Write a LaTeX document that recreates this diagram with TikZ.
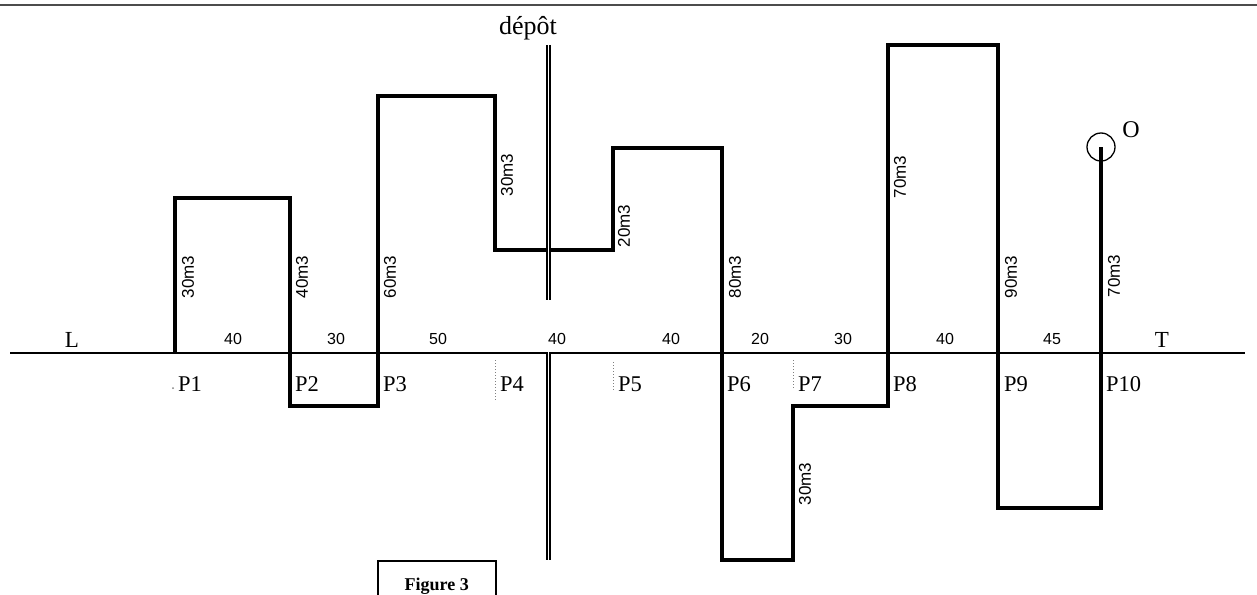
\documentclass[tikz,border=0pt]{standalone}
\usepackage{fontspec}
\setmainfont{Liberation Serif}
\newfontfamily\lblsans{Liberation Sans}
\begin{document}
\begin{tikzpicture}[x=1pt,y=-1pt,
  prof/.style={line width=3.3pt, line join=miter},
  baseln/.style={line width=2pt},
  vol/.style={font=\lblsans\fontsize{17}{17}\selectfont, rotate=90, inner sep=0pt},
  dist/.style={font=\lblsans\fontsize{16}{16}\selectfont, inner sep=0pt},
  plab/.style={font=\fontsize{22.5}{22.5}\selectfont, anchor=base west, inner sep=0pt},
  big/.style={font=\fontsize{23}{23}\selectfont, inner sep=0pt, anchor=base},
  ptick/.style={dotted, gray, line width=1pt},
  depotln/.style={double, double distance=1.8pt, line width=2pt}]
\clip (0,0) rectangle (1257,594);
\fill[white] (0,0) rectangle (1257,594);
% top rule
\coordinate (t0) at (0,5);
\coordinate (t1) at (1257,5);
\draw[black!70, line width=1.6pt] (t0) -- (t1);
% baseline
\coordinate (L0) at (10,353);
\coordinate (R0) at (1245,353);
\draw[baseln] (L0) -- (R0);
% profile corners
\coordinate (a0) at (175,353);
\coordinate (a1) at (175,198);
\coordinate (a2) at (290,198);
\coordinate (a3) at (290,406);
\coordinate (a4) at (378,406);
\coordinate (a5) at (378,96);
\coordinate (a6) at (495,96);
\coordinate (a7) at (495,250);
\coordinate (a8) at (613,250);
\coordinate (a9) at (613,148);
\coordinate (a10) at (722,148);
\coordinate (a11) at (722,560);
\coordinate (a12) at (793,560);
\coordinate (a13) at (793,406);
\coordinate (a14) at (888,406);
\coordinate (a15) at (888,45);
\coordinate (a16) at (998,45);
\coordinate (a17) at (998,508);
\coordinate (a18) at (1101,508);
\node[draw, circle, minimum size=28pt, inner sep=0pt, line width=1.3pt] (O) at (1101,147) {};
\draw[prof] (a0) -- (a1) -- (a2) -- (a3) -- (a4) -- (a5) -- (a6) -- (a7) -- (a8)
  -- (a9) -- (a10) -- (a11) -- (a12) -- (a13) -- (a14) -- (a15) -- (a16) -- (a17)
  -- (a18) -- (O.center);
% depot double line
\coordinate (d0) at (548.5,45);
\coordinate (d1) at (548.5,300);
\coordinate (d2) at (548.5,352);
\coordinate (d3) at (548.5,560);
\draw[depotln] (d0) -- (d1);
\draw[depotln] (d2) -- (d3);
\node[big, font=\fontsize{26}{26}\selectfont] (depot) at (528,35) {dépôt};
% dotted ticks
\coordinate (k4a) at (495,360); \coordinate (k4b) at (495,400);
\coordinate (k5a) at (613,362); \coordinate (k5b) at (613,390);
\coordinate (k7a) at (793,360); \coordinate (k7b) at (793,390);
\draw[ptick] (k4a) -- (k4b);
\draw[ptick] (k5a) -- (k5b);
\draw[ptick] (k7a) -- (k7b);
\fill[gray] (173,388) circle (1pt);
% labels L, T, O
\node[big] (Ll) at (72,347) {L};
\node[big] (Tl) at (1162,347) {T};
\node[big, font=\fontsize{24}{24}\selectfont] (Ol) at (1131,137) {O};
% point labels
\node[plab] (P1) at (178,391) {P1};
\node[plab] (P2) at (295,391) {P2};
\node[plab] (P3) at (383,391) {P3};
\node[plab] (P4) at (500,391) {P4};
\node[plab] (P5) at (618,391) {P5};
\node[plab] (P6) at (727,391) {P6};
\node[plab] (P7) at (798,391) {P7};
\node[plab] (P8) at (893,391) {P8};
\node[plab] (P9) at (1004,391) {P9};
\node[plab] (P10) at (1106,391) {P10};
% distances
\node[dist] (s1) at (233,339) {40};
\node[dist] (s2) at (336,339) {30};
\node[dist] (s3) at (438,339) {50};
\node[dist] (s4) at (557,339) {40};
\node[dist] (s5) at (671,339) {40};
\node[dist] (s6) at (760,339) {20};
\node[dist] (s7) at (843,339) {30};
\node[dist] (s8) at (945,339) {40};
\node[dist] (s9) at (1052,339) {45};
% volumes
\node[vol] (v1) at (188,277) {30m3};
\node[vol] (v2) at (302,277) {40m3};
\node[vol] (v3) at (390,277) {60m3};
\node[vol] (v4) at (507,175) {30m3};
\node[vol] (v5) at (624,226) {20m3};
\node[vol] (v6) at (735,277) {80m3};
\node[vol] (v7) at (805,484) {30m3};
\node[vol] (v8) at (900,177) {70m3};
\node[vol] (v9) at (1011,277) {90m3};
\node[vol] (v10) at (1114,276) {70m3};
% figure caption box
\node[draw, line width=1.6pt, anchor=north west, minimum width=118pt, minimum height=50pt,
  inner sep=0pt, font=\bfseries\fontsize{18}{18}\selectfont] (fig) at (377,560) {Figure 3};
\end{tikzpicture}
\end{document}
